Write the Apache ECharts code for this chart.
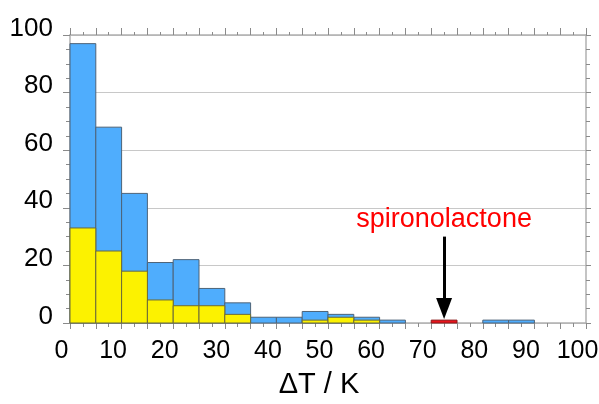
<!DOCTYPE html>
<html>
<head>
<meta charset="utf-8">
<script src="https://cdn.jsdelivr.net/npm/echarts@6/dist/echarts.min.js"></script>
<style>html,body{margin:0;padding:0;background:#fff}#c{width:599px;height:404px}</style>
</head>
<body>
<div id="c"></div>
<script>
const binWidth = 5;
const binStarts = [0,5,10,15,20,25,30,35,40,45,50,55,60,65,70,75,80,85,90,95];
const totalCounts = [97,68,45,21,22,12,7,2,2,4,3,2,1,0,0,0,1,1,0,0];
const subsetCounts = [33,25,18,8,6,6,3,0,0,1,2,1,0,0,0,0,0,0,0,0];
const highlightBin = 70;
const highlightCount = 1;
const highlightName = 'spironolactone';
const xTitle = 'ΔT / K';

const FONT = 'Liberation Sans, Arial, sans-serif';

function toRects(starts, counts){
  return starts.map((s,i)=>[s, s+binWidth, counts[i]]);
}
function renderBar(params, api){
  const v = api.value(2);
  if (!v) return null;
  const a = api.coord([api.value(0), v]);
  const b = api.coord([api.value(1), 0]);
  return {type:'rect', shape:{x:a[0], y:a[1], width:b[0]-a[0], height:b[1]-a[1]},
    style: api.style()};
}

const axisGray = '#b0b0b0';
const tickGray = '#8a8a8a';

const xBase = {
  type:'value', min:0, max:100, interval:5,
  axisLine:{show:true, onZero:false, lineStyle:{color:axisGray, width:1.5}},
  splitLine:{show:false},
};

const chart = echarts.init(document.getElementById('c'), null, {renderer:'canvas'});
chart.setOption({
  animation:false,
  backgroundColor:'#fff',
  grid:{left:70, right:13, top:35, bottom:81, containLabel:false, outerBoundsMode:'none'},
  xAxis:[
    Object.assign({}, xBase, {
      position:'bottom',
      name: xTitle, nameLocation:'middle', nameGap:47,
      nameTextStyle:{fontSize:29, color:'#000', fontFamily:FONT, padding:[0,18,0,0]},
      axisTick:{show:true, length:6, lineStyle:{color:tickGray, width:1}},
      minorTick:{show:true, splitNumber:2, length:4, lineStyle:{color:tickGray, width:1}},
      axisLabel:{show:true, fontSize:25, color:'#000', fontFamily:FONT, margin:16,
        padding:[0,17,0,0],
        formatter: v => (v % 10 === 0 ? String(v) : '')}
    }),
    Object.assign({}, xBase, {
      position:'top',
      axisTick:{show:true, length:7, lineStyle:{color:tickGray, width:1}},
      minorTick:{show:true, splitNumber:2, length:3, lineStyle:{color:tickGray, width:1}},
      axisLabel:{show:false}
    })
  ],
  yAxis:[
    {
      type:'value', min:0, max:100, interval:20, position:'left',
      axisLine:{show:true, onZero:false, lineStyle:{color:axisGray, width:1.5}},
      axisTick:{show:true, length:7, lineStyle:{color:tickGray, width:1}},
      minorTick:{show:true, splitNumber:4, length:4, lineStyle:{color:tickGray, width:1}},
      splitLine:{show:true, lineStyle:{color:'#c8c8c8', width:1}},
      axisLabel:{show:true, fontSize:26, color:'#000', fontFamily:FONT, margin:17,
        verticalAlign:'bottom', lineHeight:13}
    },
    {
      type:'value', min:0, max:100, interval:20, position:'right',
      axisLine:{show:true, onZero:false, lineStyle:{color:axisGray, width:1.5}},
      axisTick:{show:true, length:5, lineStyle:{color:tickGray, width:1}},
      minorTick:{show:true, splitNumber:4, length:4, lineStyle:{color:tickGray, width:1}},
      splitLine:{show:false},
      axisLabel:{show:false}
    }
  ],
  series:[
    {
      type:'custom', name:'all', renderItem:renderBar,
      xAxisIndex:0, yAxisIndex:0,
      encode:{x:[0,1], y:2},
      itemStyle:{color:'#4fadfd', borderColor:'#4d6378', borderWidth:1},
      data: toRects(binStarts, totalCounts), z:2
    },
    {
      type:'custom', name:'subset', renderItem:renderBar,
      xAxisIndex:0, yAxisIndex:0,
      encode:{x:[0,1], y:2},
      itemStyle:{color:'#fcf200', borderColor:'#6b6a3a', borderWidth:1},
      data: toRects(binStarts, subsetCounts), z:3
    },
    {
      type:'custom', name:highlightName, renderItem:renderBar,
      xAxisIndex:0, yAxisIndex:0,
      encode:{x:[0,1], y:2},
      itemStyle:{color:'#e8141c', borderColor:'#8a1a1a', borderWidth:1},
      data: [[highlightBin, highlightBin+binWidth, highlightCount]], z:4,
      markLine:{
        silent:true, animation:false,
        symbol:['none','triangle'], symbolSize:[16,21],
        lineStyle:{color:'#000', width:3, type:'solid'},
        label:{show:false},
        data:[[{coord:[highlightBin+binWidth/2, 30]}, {coord:[highlightBin+binWidth/2, 5]}]]
      },
      markPoint:{
        silent:true, symbol:'circle', symbolSize:0,
        label:{show:true, position:'inside', formatter:highlightName, color:'#ff0000',
          fontSize:27, fontFamily:FONT},
        data:[{coord:[highlightBin+binWidth/2, 36]}]
      }
    }
  ]
});
</script>
</body>
</html>
